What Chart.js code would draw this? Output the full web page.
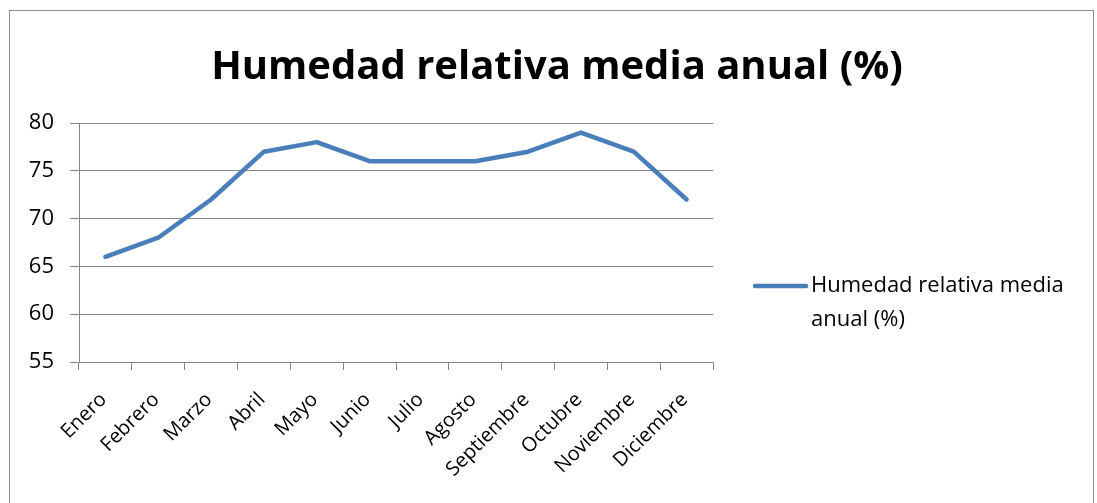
<!DOCTYPE html>
<html>
<head>
<meta charset="utf-8">
<script src="https://cdn.jsdelivr.net/npm/chart.js@4/dist/chart.umd.min.js"></script>
<style>
  body { margin: 0; background: #fff; }
  #wrap { position: relative; width: 1097px; height: 503px; }
</style>
</head>
<body>
<div id="wrap"><canvas id="grafico" width="1097" height="503"></canvas></div>
<script>
var meses = ["Enero", "Febrero", "Marzo", "Abril", "Mayo", "Junio",
  "Julio", "Agosto", "Septiembre", "Octubre", "Noviembre", "Diciembre"];
var humedad = [66, 68, 72, 77, 78, 76, 76, 76, 77, 79, 77, 72];
var serieNombre = "Humedad relativa media anual (%)";
var leyendaLineas = ["Humedad relativa media", "anual (%)"];
var titulo = "Humedad relativa media anual (%)";

var FUENTE = "'Open Sans', 'DejaVu Sans', sans-serif";
var AZUL = "#4a7ebb";
var GRIS = "#868686";

// borde, titulo centrado en todo el grafico y leyenda a la derecha (dos lineas)
var extras = {
  id: 'extras',
  beforeDraw: function (chart) {
    var ctx = chart.ctx;
    ctx.save();
    ctx.strokeStyle = "#8c8c8c";
    ctx.lineWidth = 1;
    ctx.strokeRect(9.5, 10.5, 1084, 500);
    ctx.fillStyle = "#000";
    ctx.font = "bold 40px " + FUENTE;
    ctx.textAlign = 'center';
    ctx.textBaseline = 'middle';
    ctx.fillText(titulo, 557, 68);
    ctx.restore();
  },
  afterDraw: function (chart) {
    var ctx = chart.ctx;
    var ds = chart.data.datasets[0];
    ctx.save();
    ctx.strokeStyle = ds.borderColor;
    ctx.lineWidth = 4.5;
    ctx.lineCap = 'round';
    ctx.beginPath();
    ctx.moveTo(755, 286);
    ctx.lineTo(806, 286);
    ctx.stroke();
    ctx.fillStyle = "#000";
    ctx.font = "22px " + FUENTE;
    ctx.textBaseline = 'middle';
    for (var i = 0; i < leyendaLineas.length; i++) {
      ctx.fillText(leyendaLineas[i], 811, 286 + i * 34);
    }
    ctx.restore();
  }
};

new Chart(document.getElementById("grafico"), {
  type: 'line',
  data: {
    labels: meses,
    datasets: [{
      label: serieNombre,
      data: humedad,
      borderColor: AZUL,
      backgroundColor: AZUL,
      borderWidth: 4.5,
      borderCapStyle: 'round',
      borderJoinStyle: 'round',
      pointRadius: 0,
      tension: 0,
      fill: false
    }]
  },
  options: {
    responsive: false,
    animation: false,
    layout: { padding: { left: 0, right: 384, top: 123, bottom: 0 } },
    plugins: {
      legend: { display: false },
      tooltip: { enabled: false },
      title: { display: false }
    },
    scales: {
      x: {
        offset: true,
        grid: { offset: true, drawOnChartArea: false, drawTicks: true, tickLength: 8, color: GRIS },
        border: { color: GRIS },
        ticks: { color: "#000", font: { family: FUENTE, size: 20 }, maxRotation: 45, minRotation: 45, padding: 18, labelOffset: -2, autoSkip: false },
        afterFit: function (s) { s.height = 141; }
      },
      y: {
        min: 55,
        max: 80,
        ticks: { stepSize: 5, color: "#000", font: { family: FUENTE, size: 22 }, padding: 16 },
        grid: { color: GRIS, tickLength: 9 },
        border: { color: GRIS },
        afterFit: function (s) { s.width = 79; }
      }
    }
  },
  plugins: [extras]
});
</script>
</body>
</html>
